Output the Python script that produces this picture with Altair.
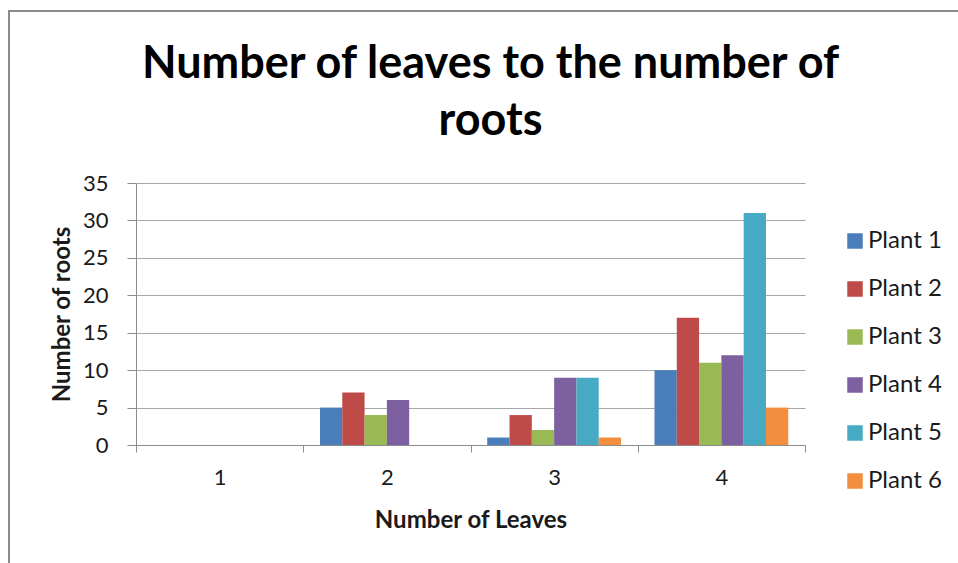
import altair as alt
import pandas as pd

leaves = ["1", "2", "3", "4"]
plants = ["Plant 1", "Plant 2", "Plant 3", "Plant 4", "Plant 5", "Plant 6"]
plant1 = [0, 5, 1, 10]
plant2 = [0, 7, 4, 17]
plant3 = [0, 4, 2, 11]
plant4 = [0, 6, 9, 12]
plant5 = [0, 0, 9, 31]
plant6 = [0, 0, 1, 5]
colors = ["#4A7EBB", "#BE4B48", "#98B954", "#7D60A0", "#46AAC5", "#F28E3D"]

series = [plant1, plant2, plant3, plant4, plant5, plant6]
rows = []
for p, vals in zip(plants, series):
    for l, v in zip(leaves, vals):
        rows.append({"Leaves": l, "Plant": p, "Roots": v})
df = pd.DataFrame(rows)

FONT = "Lato"
W, H = 669, 262

bars = alt.Chart(df).mark_bar(clip=False).encode(
    x=alt.X("Leaves:N", sort=leaves,
            scale=alt.Scale(paddingInner=0, paddingOuter=0),
            axis=alt.Axis(title="Number of Leaves", labelAngle=0, tickBand="extent",
                          domainColor="#8c8c8c", tickColor="#8c8c8c", tickSize=7,
                          labelFontSize=22, labelPadding=15, labelColor="#1a1a1a",
                          titleFontSize=24, titleFontWeight="bold", titlePadding=20,
                          titleColor="#1a1a1a")),
    xOffset=alt.XOffset("Plant:N", sort=plants,
                        scale=alt.Scale(paddingInner=0, paddingOuter=0.75)),
    y=alt.Y("Roots:Q", scale=alt.Scale(domain=[0, 35], nice=False),
            axis=alt.Axis(title="Number of roots", values=[0, 5, 10, 15, 20, 25, 30, 35],
                          domainColor="#8c8c8c", tickColor="#8c8c8c", tickSize=9,
                          gridColor="#a8a8a8", gridWidth=1.2,
                          labelFontSize=22, labelPadding=19, labelColor="#1a1a1a",
                          titleFontSize=24, titleFontWeight="bold", titlePadding=8,
                          titleColor="#1a1a1a")),
    color=alt.Color("Plant:N", sort=plants,
                    scale=alt.Scale(domain=plants, range=colors),
                    legend=alt.Legend(title=None, orient="none", legendX=707, legendY=46,
                                      symbolType="square", symbolSize=240,
                                      symbolStrokeWidth=0, labelFontSize=24,
                                      labelColor="#1a1a1a", rowPadding=24,
                                      labelOffset=1)),
)

border = alt.Chart(alt.Data(values=[{"a": 1}])).mark_rect(
    fill=None, stroke="#8c8c8c", strokeWidth=2, clip=False
).encode(
    x=alt.value(-127), x2=alt.value(W + 200),
    y=alt.value(-172), y2=alt.value(H + 200),
)

chart = alt.layer(border, bars).properties(
    width=W, height=H,
    autosize=alt.AutoSizeParams(type="none"),
    padding={"left": 136, "top": 183, "right": 153, "bottom": 118},
    title=alt.TitleParams(
        text=["Number of leaves to the number of", "roots"],
        font=FONT, fontSize=45, fontWeight="bold", color="#000000",
        lineHeight=57, anchor="middle", frame="group", dx=20, offset=0, dy=134,
    ),
).configure(font=FONT).configure_view(stroke=None).configure_axis(
    labelFont=FONT, titleFont=FONT
).configure_legend(labelFont=FONT)

chart.save("out.html", embed_options={"renderer": "svg", "actions": False})
